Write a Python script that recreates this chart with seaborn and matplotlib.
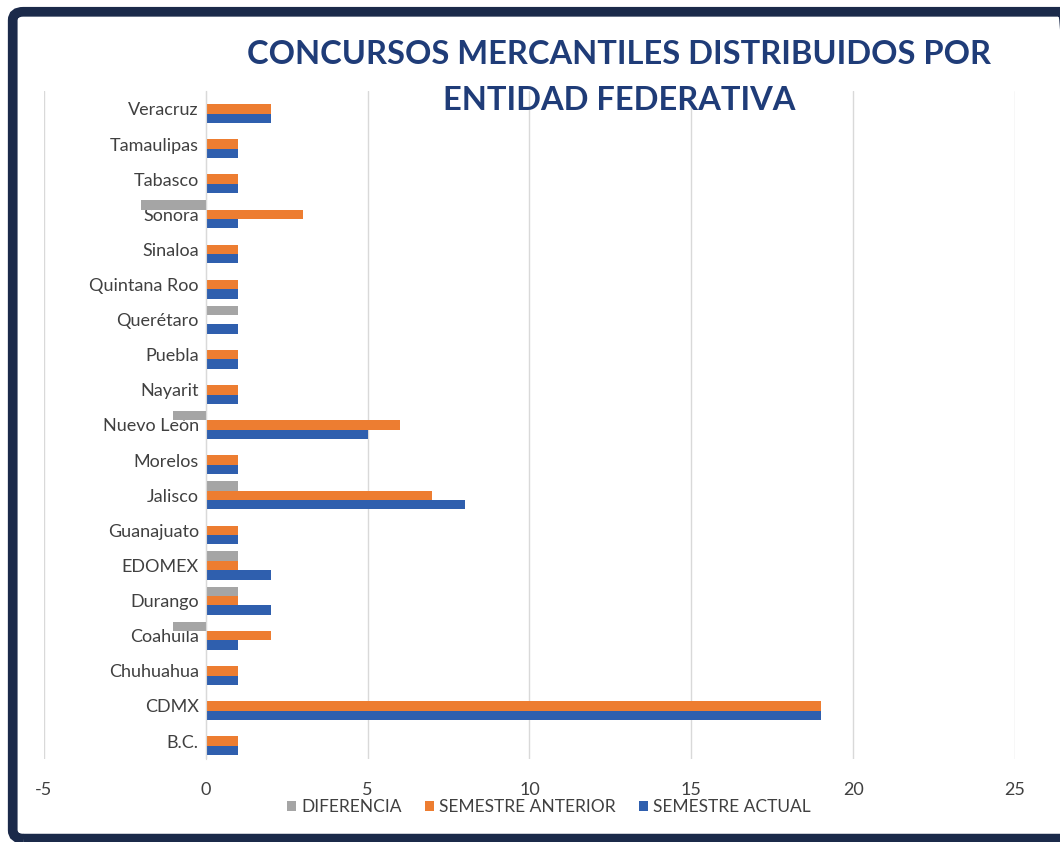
import pandas as pd
import matplotlib.pyplot as plt
import seaborn as sns
from matplotlib.patches import FancyBboxPatch

# Datos (de abajo hacia arriba, como en el original)
entidades = ['B.C.', 'CDMX', 'Chuhuahua', 'Coahuila', 'Durango', 'EDOMEX',
             'Guanajuato', 'Jalisco', 'Morelos', 'Nuevo León', 'Nayarit',
             'Puebla', 'Querétaro', 'Quintana Roo', 'Sinaloa', 'Sonora',
             'Tabasco', 'Tamaulipas', 'Veracruz']
semestre_actual = [1, 19, 1, 1, 2, 2, 1, 8, 1, 5, 1, 1, 1, 1, 1, 1, 1, 1, 2]
semestre_anterior = [1, 19, 1, 2, 1, 1, 1, 7, 1, 6, 1, 1, 0, 1, 1, 3, 1, 1, 2]
diferencia = [0, 0, 0, -1, 1, 1, 0, 1, 0, -1, 0, 0, 1, 0, 0, -2, 0, 0, 0]

series = ['DIFERENCIA', 'SEMESTRE ANTERIOR', 'SEMESTRE ACTUAL']
colores = ['#A5A5A5', '#ED7D31', '#2F5FAE']
xticks = [-5, 0, 5, 10, 15, 20, 25]

df = pd.DataFrame({
    'entidad': entidades * 3,
    'valor': diferencia + semestre_anterior + semestre_actual,
    'serie': [s for s in series for _ in entidades],
})

sns.set_style('white')
plt.rcParams['font.family'] = ['Lato', 'DejaVu Sans']

fig = plt.figure(figsize=(10.6, 8.42), dpi=100)
ax = fig.add_axes([0.0415, 0.099, 0.916, 0.7925])

sns.barplot(data=df, x='valor', y='entidad', hue='serie',
            order=entidades[::-1], hue_order=series,
            palette=colores, width=0.8, orient='h', ax=ax,
            saturation=1, legend=True, linewidth=0)

ax.set_xlim(-5, 25)
ax.set_xticks(xticks)
ax.set_xticklabels([str(t) for t in xticks])
ax.set_xlabel('')
ax.set_ylabel('')
ax.grid(axis='x', color='#D9D9D9', linewidth=1)
ax.set_axisbelow(True)
for s in ['top', 'right', 'bottom']:
    ax.spines[s].set_visible(False)
ax.spines['left'].set_position(('data', 0))
ax.spines['left'].set_color('#D9D9D9')
ax.tick_params(axis='both', length=0, colors='#404040', labelsize=13)
ax.tick_params(axis='x', pad=17)
ax.tick_params(axis='y', pad=5)

ax.legend(loc='upper center', bbox_to_anchor=(0.52, -0.037), ncol=3,
          frameon=False, fontsize=12.5, handlelength=0.55, handleheight=0.55,
          handletextpad=0.3, columnspacing=1.3, labelcolor='#404040')

# titulo en dos lineas
fig.text(0.584, 1 - 55 / 842, 'CONCURSOS MERCANTILES DISTRIBUIDOS POR',
         ha='center', va='center', fontsize=23.5, fontweight='bold', color='#1F3C78')
fig.text(0.584, 1 - 101 / 842, 'ENTIDAD FEDERATIVA',
         ha='center', va='center', fontsize=23.5, fontweight='bold', color='#1F3C78')

# marco azul oscuro
marco = FancyBboxPatch((0.012, 0.004), 1.0, 0.982, transform=fig.transFigure,
                       boxstyle='round,pad=0,rounding_size=0.01',
                       fill=False, edgecolor='#1B2A4A', linewidth=7)
fig.patches.append(marco)

fig.savefig('out.png', dpi=100)
